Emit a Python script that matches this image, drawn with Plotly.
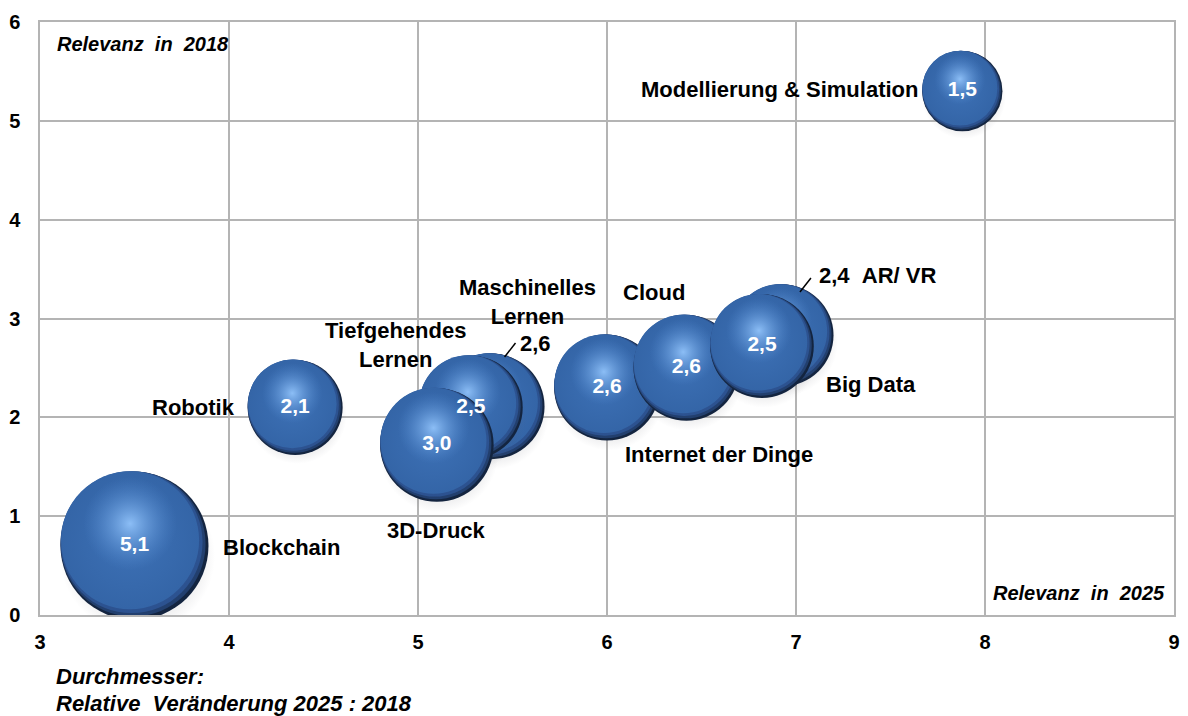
import math
import plotly.graph_objects as go

# ---------------- data ----------------
names = ["Blockchain", "Robotik", "Maschinelles Lernen", "Tiefgehendes Lernen", "3D-Druck",
         "Internet der Dinge", "Cloud", "AR/ VR", "Big Data", "Modellierung & Simulation"]
relevanz_2025 = [3.5, 4.35, 5.39, 5.28, 5.10, 6.00, 6.42, 6.93, 6.82, 7.88]
relevanz_2018 = [0.70, 2.10, 2.11, 2.10, 1.72, 2.30, 2.50, 2.83, 2.72, 5.30]
veraenderung = [5.1, 2.1, 2.6, 2.5, 3.0, 2.6, 2.6, 2.4, 2.5, 1.5]
value_inside = [True, True, False, True, True, True, True, False, True, True]

x_ticks = [3, 4, 5, 6, 7, 8, 9]
y_ticks = [0, 1, 2, 3, 4, 5, 6]

# category labels: text, x, y, xanchor
labels = [
    ("Modellierung & Simulation", 7.655, 5.32, "right"),
    ("2,4&nbsp;&nbsp;AR/ VR", 7.11, 3.44, "left"),
    ("Big Data", 7.15, 2.33, "left"),
    ("Cloud", 6.25, 3.26, "center"),
    ("Internet der Dinge", 6.59, 1.62, "center"),
    ("Maschinelles<br>Lernen", 5.58, 3.17, "center"),
    ("2,6", 5.62, 2.75, "center"),
    ("Tiefgehendes<br>Lernen", 4.88, 2.73, "center"),
    ("Robotik", 4.04, 2.10, "right"),
    ("3D-Druck", 5.10, 0.86, "center"),
    ("Blockchain", 3.96, 0.68, "left"),
]
# leader lines (x0, y0, x1, y1)
leaders = [(5.516, 2.752, 5.458, 2.61), (7.079, 3.41, 7.021, 3.268)]

# ---------------- layout geometry ----------------
W, H = 1188, 716
ML, MR, MT, MB = 40, 8, 22, 101
plot_h = H - MT - MB
plot_w = W - ML - MR
px_per_y = plot_h / (y_ticks[-1] - y_ticks[0])
px_per_x = plot_w / (x_ticks[-1] - x_ticks[0])

FONT = "Liberation Sans, Arial, sans-serif"
max_d = 148
sizeref = 2.0 * max(veraenderung) / (max_d ** 2)


def disk(x, y, size, rim, centre):
    return go.Scatter(
        x=[x], y=[y], mode="markers",
        marker=dict(size=[size], sizemode="area", sizeref=sizeref, opacity=1,
                    color=rim, gradient=dict(type="radial", color=centre),
                    line=dict(width=0)),
        hoverinfo="skip", showlegend=False)


fig = go.Figure()

for i in range(len(names)):
    d = 2 * math.sqrt(veraenderung[i] / 2 / sizeref)
    r = d / 2
    x, y, s = relevanz_2025[i], relevanz_2018[i], veraenderung[i]
    dx, dy = r / px_per_x, r / px_per_y
    # soft shadow
    fig.add_trace(disk(x + 0.04 * dx, y - 0.14 * dy, s * 1.1,
                       "rgba(90,90,100,0)", "rgba(90,90,100,0.5)"))
    # dark rim (lower right)
    fig.add_trace(disk(x, y, s, "#13243f", "#1f3a66"))
    # transitions
    fig.add_trace(disk(x - 0.02 * dx, y + 0.025 * dy, s * 0.96, "#223f6e", "#264677"))
    fig.add_trace(disk(x - 0.04 * dx, y + 0.05 * dy, s * 0.92, "#2c5290", "#2f5795"))
    # body
    fig.add_trace(disk(x - 0.06 * dx, y + 0.075 * dy, s * 0.87, "#3465a7", "#3d71b6"))
    # highlight
    fig.add_trace(disk(x - 0.06 * dx, y + 0.30 * dy, s * 0.40,
                       "rgba(80,135,205,0)", "rgba(140,190,246,1)"))

# values inside
fig.add_trace(go.Scatter(
    x=[relevanz_2025[i] for i in range(len(names)) if value_inside[i]],
    y=[relevanz_2018[i] for i in range(len(names)) if value_inside[i]],
    mode="text",
    text=[f"{veraenderung[i]:.1f}".replace(".", ",") for i in range(len(names)) if value_inside[i]],
    textposition="middle center",
    textfont=dict(family=FONT, size=21, color="white", weight="bold"),
    hoverinfo="skip", showlegend=False))

for t, x, y, xa in labels:
    fig.add_annotation(x=x, y=y, text=t, showarrow=False, xanchor=xa, yanchor="middle",
                       align="center",
                       font=dict(family=FONT, size=22, color="black", weight="bold"))

for x0, y0, x1, y1 in leaders:
    fig.add_shape(type="line", x0=x0, y0=y0, x1=x1, y1=y1, xref="x", yref="y",
                  line=dict(color="black", width=1.5))


def py2paper(py):
    return ((H - MB) - py) / plot_h


def px2paper(px):
    return (px - ML) / plot_w


cap_font = dict(family=FONT, size=20, color="black", weight="bold", style="italic")
cap_font2 = dict(family=FONT, size=22, color="black", weight="bold", style="italic")
fig.add_annotation(xref="paper", yref="paper", x=px2paper(55), y=py2paper(44), xanchor="left",
                   yanchor="middle", text="Relevanz&nbsp; in&nbsp; 2018", showarrow=False, font=cap_font)
fig.add_annotation(xref="paper", yref="paper", x=px2paper(1173), y=py2paper(593), xanchor="right",
                   yanchor="middle", text="Relevanz&nbsp; in&nbsp; 2025", showarrow=False, font=cap_font)
fig.add_annotation(xref="paper", yref="paper", x=px2paper(54), y=py2paper(676), xanchor="left",
                   yanchor="middle", align="left", text="Durchmesser:", showarrow=False, font=cap_font2)
fig.add_annotation(xref="paper", yref="paper", x=px2paper(54), y=py2paper(703), xanchor="left",
                   yanchor="middle", align="left", text="Relative&nbsp; Veränderung 2025 : 2018",
                   showarrow=False, font=cap_font2)

grid = "#b4b4b4"
fig.update_xaxes(range=[x_ticks[0], x_ticks[-1]], tickvals=x_ticks, showgrid=True, gridcolor=grid,
                 gridwidth=1.5, showline=True, linecolor=grid, linewidth=1.5, mirror=True,
                 zeroline=False, ticks="", ticklabelstandoff=8,
                 tickfont=dict(family=FONT, size=20, color="black", weight="bold"))
fig.update_yaxes(range=[y_ticks[0], y_ticks[-1]], tickvals=y_ticks, showgrid=True, gridcolor=grid,
                 gridwidth=1.5, showline=True, linecolor=grid, linewidth=1.5, mirror=True,
                 zeroline=False, ticks="", ticklabelstandoff=14,
                 tickfont=dict(family=FONT, size=20, color="black", weight="bold"))

fig.update_layout(width=W, height=H, margin=dict(l=ML, r=MR, t=MT, b=MB),
                  plot_bgcolor="white", paper_bgcolor="white", showlegend=False)

fig.write_html("out.html", config={"displayModeBar": False},
               post_script="document.body.style.margin='0';document.body.style.overflow='hidden';")
